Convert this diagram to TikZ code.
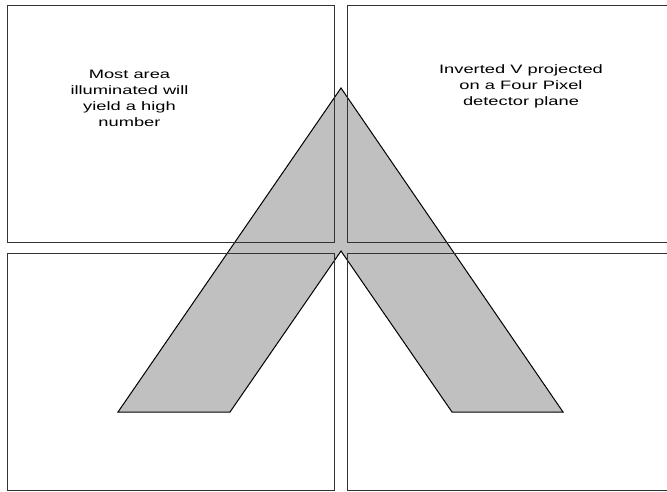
\documentclass[tikz,border=0pt]{standalone}
\usepackage{fontspec}
\setmainfont{Liberation Sans}
\begin{document}
\begin{tikzpicture}[x=1pt,y=-1pt,
  pixel/.style={draw=black!80,line width=1pt},
  vshape/.style={draw=black,line width=1pt,fill={rgb,255:red,192;green,192;blue,192},line join=miter},
  label/.style={align=center,xscale=1.5,font=\fontsize{12.2}{16}\selectfont,inner sep=0pt}]
\clip (0,0) rectangle (667,491);
\useasboundingbox (0,0) rectangle (667,491);
\fill[white] (0,0) rectangle (667,491);
% inverted V
\draw[vshape] (341,88) -- (563,412) -- (452,412) -- (341,251) -- (230,412) -- (118,412) -- cycle;
% four pixels
\draw[pixel] (7,5) rectangle (334.5,242.5);
\draw[pixel] (347.5,5) rectangle (675,242.5);
\draw[pixel] (7,253) rectangle (334.5,490);
\draw[pixel] (347.5,253) rectangle (675,490);
% texts
\node[label] (t1) at (129.5,98) {Most area\\illuminated will\\yield a high\\number};
\node[label] (t2) at (521,86) {Inverted V projected\\on a Four Pixel\\detector plane};
\end{tikzpicture}
\end{document}
